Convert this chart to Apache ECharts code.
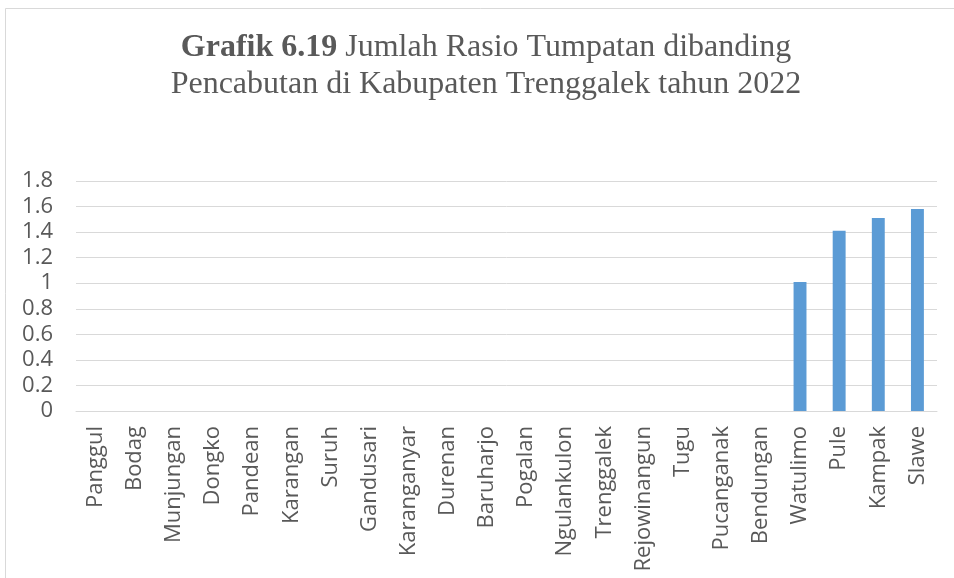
<!DOCTYPE html>
<html>
<head>
<meta charset="utf-8">
<script src="https://cdn.jsdelivr.net/npm/echarts@6/dist/echarts.min.js"></script>
<style>
  html, body { margin: 0; padding: 0; background: #fff; }
  #chart { width: 954px; height: 578px; }
</style>
</head>
<body>
<div id="chart"></div>
<script>
// Kecamatan names (x axis)
const districts = [
  'Panggul', 'Bodag', 'Munjungan', 'Dongko', 'Pandean', 'Karangan', 'Suruh',
  'Gandusari', 'Karanganyar', 'Durenan', 'Baruharjo', 'Pogalan', 'Ngulankulon',
  'Trenggalek', 'Rejowinangun', 'Tugu', 'Pucanganak', 'Bendungan', 'Watulimo',
  'Pule', 'Kampak', 'Slawe'
];
// Ratio of fillings to extractions per district
const ratio = [
  0, 0, 0, 0, 0, 0, 0, 0, 0, 0, 0, 0, 0, 0, 0, 0, 0, 0,
  1.01, 1.41, 1.51, 1.58
];
// Y axis range
const yMin = 0;
const yMax = 1.8;
const yStep = 0.2;

const chart = echarts.init(document.getElementById('chart'), null, { renderer: 'canvas' });

chart.setOption({
  animation: false,
  backgroundColor: '#ffffff',
  graphic: [
    {
      type: 'rect',
      shape: { x: 5.5, y: 8.5, width: 960, height: 600 },
      style: { fill: 'none', stroke: '#d9d9d9', lineWidth: 1 },
      silent: true
    },
    {
      type: 'text',
      x: 486,
      y: 29,
      style: {
        text: '{b|Grafik 6.19} Jumlah Rasio Tumpatan dibanding\nPencabutan di Kabupaten Trenggalek tahun 2022',
        fontFamily: 'Liberation Serif',
        fontSize: 32,
        lineHeight: 37,
        fill: '#595959',
        align: 'center',
        rich: {
          b: { fontWeight: 'bold', fontFamily: 'Liberation Serif', fontSize: 32, lineHeight: 37, fill: '#595959' }
        }
      }
    }
  ],
  grid: { left: 76, right: 17, top: 181, bottom: 167, containLabel: false },
  xAxis: {
    type: 'category',
    data: districts,
    axisLine: { lineStyle: { color: '#d9d9d9', width: 1 } },
    axisTick: { show: false },
    axisLabel: {
      interval: 0,
      rotate: 90,
      margin: 15,
      color: '#595959',
      fontFamily: 'Open Sans',
      fontSize: 22
    }
  },
  yAxis: {
    type: 'value',
    min: yMin,
    max: yMax,
    interval: yStep,
    axisLine: { show: false },
    axisTick: { show: false },
    splitLine: { lineStyle: { color: '#d9d9d9', width: 1 } },
    axisLabel: {
      margin: 23,
      color: '#595959',
      fontFamily: 'Open Sans',
      fontSize: 22,
      formatter: v => String(Math.round(v * 10) / 10)
    }
  },
  series: [{
    type: 'bar',
    data: ratio,
    barWidth: '33%',
    itemStyle: { color: '#5b9bd5' }
  }]
});
</script>
</body>
</html>
